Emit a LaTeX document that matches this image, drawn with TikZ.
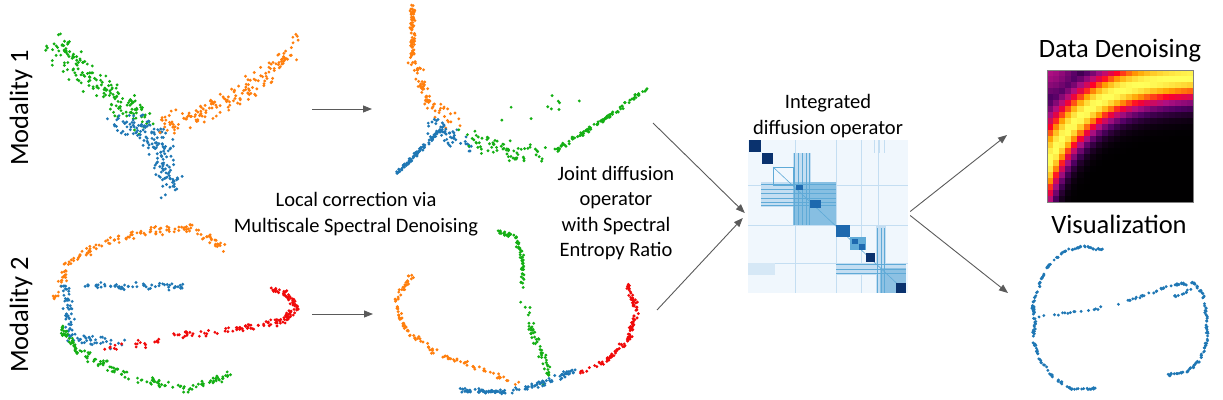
\documentclass[tikz,border=0pt]{standalone}
\usepackage{fontspec}
\setmainfont{Carlito}
\usepackage{tikz}
\usetikzlibrary{arrows.meta, positioning, calc}
\definecolor{ptB}{RGB}{31,119,180}
\definecolor{ptO}{RGB}{255,127,14}
\definecolor{ptG}{RGB}{20,175,20}
\definecolor{ptR}{RGB}{240,10,10}
\definecolor{arrowG}{RGB}{90,90,90}
\definecolor{mxbg}{RGB}{240,247,253}
\definecolor{mxl}{RGB}{196,222,242}
\definecolor{mxm}{RGB}{95,170,215}
\definecolor{mxd}{RGB}{30,105,175}
\definecolor{mxk}{RGB}{10,50,110}
\definecolor{hm0}{RGB}{0,0,0}
\definecolor{hm1}{RGB}{80,0,100}
\definecolor{hm2}{RGB}{175,15,130}
\definecolor{hm3}{RGB}{255,0,40}
\definecolor{hm4}{RGB}{255,160,0}
\definecolor{hm5}{RGB}{255,255,90}
\tikzset{flow/.style={draw=arrowG, line width=0.9pt, -{Triangle[length=9pt,width=7pt]}},
  lbl/.style={font=\fontsize{20.5}{25.5}\selectfont, align=center, inner sep=0pt},
  head/.style={font=\fontsize{26.5}{30}\selectfont, inner sep=0pt}}
% dots scattered round the segments x1/y1/x2/y2
\newcommand{\ptband}[4]{%
  \foreach \xa/\ya/\xb/\yb in {#4} {%
    \foreach \k in {1,...,#2} {%
      \pgfmathsetmacro\ptT{rnd}%
      \pgfmathsetmacro\ptX{\xa+(\xb-\xa)*\ptT+#3*(rand+rand)/2}%
      \pgfmathsetmacro\ptY{\ya+(\yb-\ya)*\ptT+#3*(rand+rand)/2}%
      \fill[#1] (\ptX,\ptY) circle[radius=1.6pt];
    }%
  }%
}
\begin{document}
\begin{tikzpicture}[x=1pt,y=-1pt]
\useasboundingbox (0,0) rectangle (1223,399);
\pgfmathsetseed{11}
% row labels
\node[head, rotate=90, anchor=base] (mod1) at (28,108) {Modality 1};
\node[head, rotate=90, anchor=base] (mod2) at (28,315) {Modality 2};
% modality 1, raw
\ptband{ptG}{40}{17}{52/45/77/68, 77/68/102/88, 102/88/127/105, 127/105/150/120}
\ptband{ptG}{8}{6}{62/30/70/55}
\ptband{ptB}{40}{15}{117/122/142/130, 142/130/160/142, 157/142/166/165, 166/165/170/185}
\ptband{ptO}{40}{12}{160/125/195/115, 195/115/230/100, 230/100/260/80, 260/80/288/55}
\ptband{ptO}{8}{5}{285/55/298/35}
% modality 1, corrected
\ptband{ptO}{80}{3}{412/5/413/57}
\ptband{ptO}{40}{7}{413/57/427/100}
\ptband{ptO}{30}{10}{427/100/457/127}
\ptband{ptB}{90}{2.5}{396/174/440/130}
\ptband{ptB}{50}{10}{432/124/470/148}
\ptband{ptG}{35}{12}{465/135/505/152, 505/152/545/155}
\ptband{ptG}{50}{2.5}{556/150/600/122, 600/122/648/88}
\ptband{ptG}{10}{15}{500/110/580/100}
% modality 2, raw
\ptband{ptO}{28}{5}{55/300/70/260, 70/260/110/240, 110/240/150/231, 150/231/190/228, 190/228/232/253}
\ptband{ptB}{60}{4}{85/285/185/287}
\ptband{ptB}{50}{6}{65/282/72/340}
\ptband{ptB}{35}{7}{70/338/125/345}
\ptband{ptR}{20}{5}{100/350/170/340}
\ptband{ptR}{32}{4}{170/337/240/328, 240/328/280/322, 280/322/297/308, 297/308/285/292}
\ptband{ptR}{12}{3}{285/292/272/290}
\ptband{ptG}{35}{5}{60/325/78/350, 78/350/120/373, 120/373/185/390, 185/390/230/373}
% modality 2, corrected
\ptband{ptG}{22}{2.5}{497/231/515/236, 515/236/523/260, 523/260/522/295}
\ptband{ptG}{22}{5}{522/300/535/340, 535/340/548/370}
\ptband{ptG}{10}{3}{548/370/545/385}
\ptband{ptO}{25}{3}{412/276/395/300, 395/300/405/330, 405/330/440/355, 440/355/485/370}
\ptband{ptO}{14}{3}{485/370/525/387}
\ptband{ptR}{32}{3}{627/285/637/310, 637/310/628/340, 628/340/605/362}
\ptband{ptR}{14}{3}{605/362/575/375}
\ptband{ptB}{60}{2.5}{460/390/505/392}
\ptband{ptB}{30}{4}{505/392/545/383, 545/383/575/370}
% arrows into the corrected plots
\coordinate (m1out) at (312,109);
\coordinate (m1in) at (372,109);
\coordinate (m2out) at (312,314);
\coordinate (m2in) at (373,314);
\draw[flow] (m1out) -- (m1in);
\draw[flow] (m2out) -- (m2in);
\node[lbl] (msd) at (356,214) {Local correction via\\Multiscale Spectral Denoising};
\node[lbl] (jdo) at (616,213) {Joint diffusion\\operator\\with Spectral\\Entropy Ratio};
% integrated diffusion operator
\node[inner sep=0pt, minimum width=160pt, minimum height=153pt] (intop) at (828,216.5) {};
\begin{scope}[shift={(748,140)}]
\fill[mxbg] (0,0) rectangle (160,153);
\foreach \lx in {47,88,113,130} \fill[mxl] (\lx,0) rectangle ++(0.8,153);
\foreach \ly in {45,85,123} \fill[mxl] (0,\ly) rectangle ++(160,0.8);
\fill[mxl] (45,13) rectangle (63,85);
\fill[mxl] (13,42) rectangle (88,67);
\fill[mxm!60!mxl] (45,42) rectangle (88,85);
\foreach \ly in {44,49,53,58,62,65} \fill[mxm] (13,\ly) rectangle ++(75,1.2);
\foreach \lx in {46,50,54,58,61} \fill[mxm] (\lx,13) rectangle ++(1.2,72);
\fill[mxl] (128,85) rectangle (138,153);
\fill[mxl] (88,123) rectangle (158,135);
\fill[mxl!60!mxbg] (0,123) rectangle (27,135);
\fill[mxm!55!mxl] (132,128) rectangle (158,153);
\foreach \lx in {129,133,136} \fill[mxm] (\lx,88) rectangle ++(1.2,65);
\foreach \ly in {124,129,133} \fill[mxm] (88,\ly) rectangle ++(70,1.2);
\draw[mxm, line width=0.6pt] (25,27) -- (158,152);
\draw[mxm, line width=0.8pt] (25,27) rectangle (45,45);
\fill[mxk] (1,0) rectangle (13,12);
\fill[mxk] (14,13) rectangle (25,24);
\fill[mxd] (48,45) rectangle (55,50);
\fill[mxd] (62,60) rectangle (73,68);
\fill[mxd] (88,85) rectangle (102,97);
\fill[mxm] (102,97) rectangle (118,110);
\fill[mxd] (104,99) rectangle (110,104);
\fill[mxd] (111,104) rectangle (117,110);
\fill[mxk] (118,113) rectangle (127,122);
\fill[mxk] (148,143) rectangle (158,153);
\foreach \lx in {126,131,136} \fill[mxl] (\lx,0) rectangle ++(1.2,13);
\end{scope}
\node[lbl] (intlbl) at (828,116) {Integrated\\diffusion operator};
\coordinate (j1) at (653,123);
\coordinate (j2) at (657,310);
\draw[flow] (j1) -- ($(intop.west)+(-3,-3.5)$);
\draw[flow] (j2) -- ($(intop.west)+(-5,1.5)$);
% data denoising heatmap
\foreach \hi in {0,...,23} {
  \foreach \hj in {0,...,21} {
    \pgfmathsetmacro\hu{(\hi+0.5)/24}
    \pgfmathsetmacro\hv{(\hj+0.5)/22}
    \pgfmathsetmacro\hr{0.03+0.7*exp(-\hu/0.3)}
    \pgfmathsetmacro\hs{1.55*exp(-\hu/0.3)}
    \pgfmathsetmacro\hd{(\hv-\hr)/sqrt(1+\hs*\hs)}
    \pgfmathsetmacro\hw{\hd<0 ? 0.2 : 0.18}
    \pgfmathsetmacro\hh{max(exp(-(\hd/\hw)*(\hd/\hw)), 0.4*exp(-(\hu*\hu+\hv*\hv)/0.06))}
    \pgfmathtruncatemacro\hseg{min(4,floor(\hh*5))}
    \pgfmathtruncatemacro\hnext{\hseg+1}
    \pgfmathtruncatemacro\hpct{100-100*(\hh*5-\hseg)}
    \colorlet{cellc}{hm\hseg!\hpct!hm\hnext}
    \fill[cellc] ({1047+\hi*146/24},{70+\hj*6}) rectangle ++(6.2,6.1);
  }
}
\node[draw=gray, line width=0.8pt, inner sep=0pt, minimum width=146pt, minimum height=132pt] (denoise) at (1120,136) {};
\node[head, anchor=base] (dnlbl) at (1120,57) {Data Denoising};
\node[head, anchor=base] (vislbl) at (1119,233) {Visualization};
% visualization
\ptband{ptB}{14}{1.5}{1103/250/1083/246, 1083/246/1063/252, 1063/252/1047/267, 1047/267/1037/290, 1037/290/1033/307, 1033/307/1035/320, 1035/320/1033/340, 1033/340/1040/360, 1040/360/1053/377, 1053/377/1073/390, 1073/390/1098/388}
\ptband{ptB}{8}{1.5}{1038/317/1073/312, 1073/312/1107/307, 1107/307/1140/297}
\ptband{ptB}{14}{1.5}{1140/297/1173/285, 1173/285/1193/283, 1193/283/1203/293, 1203/293/1207/317, 1207/317/1207/340, 1207/340/1200/360, 1200/360/1187/372, 1187/372/1167/375}
\ptband{ptB}{10}{1.5}{1173/298/1197/287}
\coordinate (dnin) at (1007,135);
\coordinate (visin) at (1008,293);
\draw[flow] ($(intop.east)+(2,-5)$) -- (dnin);
\draw[flow] ($(intop.east)+(2,-1)$) -- (visin);
\end{tikzpicture}
\end{document}
